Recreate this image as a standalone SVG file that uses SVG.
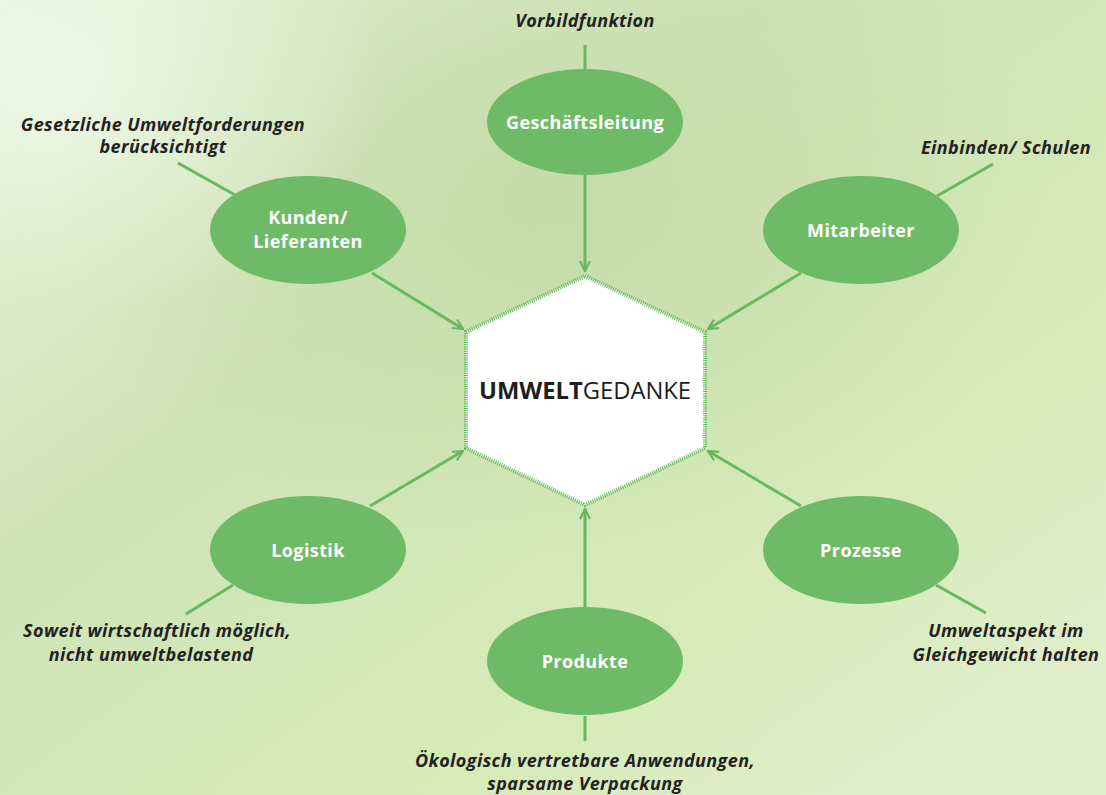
<svg xmlns="http://www.w3.org/2000/svg" width="1106" height="795" viewBox="0 0 1106 795">
<defs>
<linearGradient id="bg" x1="0" y1="0" x2="1" y2="1">
<stop offset="0" stop-color="#e6f3da"/>
<stop offset="0.35" stop-color="#cfe4b6"/>
<stop offset="0.7" stop-color="#d6ebb8"/>
<stop offset="1" stop-color="#e4efd2"/>
</linearGradient>
<radialGradient id="glow" cx="0.5" cy="0.25" r="0.45">
<stop offset="0" stop-color="#c3dba8" stop-opacity="0.9"/>
<stop offset="1" stop-color="#c3dba8" stop-opacity="0"/>
</radialGradient>
<radialGradient id="glow2" cx="0.05" cy="0.1" r="0.3">
<stop offset="0" stop-color="#eef7e6" stop-opacity="0.9"/>
<stop offset="1" stop-color="#eef7e6" stop-opacity="0"/>
</radialGradient>
<marker id="arr" viewBox="0 0 12 12" refX="11" refY="6" markerWidth="12" markerHeight="12" markerUnits="userSpaceOnUse" orient="auto">
<path d="M1,1 L11,6 L1,11" fill="none" stroke="#68b860" stroke-width="2.2"/>
</marker>
<style>
.node{fill:#6fba66}
.lbl{font-family:"Open Sans","Liberation Sans",sans-serif;font-weight:bold;font-size:18px;letter-spacing:0.4px;fill:#ffffff;text-anchor:middle}
.ann{font-family:"Open Sans","Liberation Sans",sans-serif;font-weight:bold;font-style:italic;font-size:18px;letter-spacing:0.4px;fill:#222222;text-anchor:middle}
.con{stroke:#68b860;stroke-width:3;fill:none}
</style>
</defs>
<rect width="1106" height="795" fill="url(#bg)"/>
<rect width="1106" height="795" fill="url(#glow)"/>
<rect width="1106" height="795" fill="url(#glow2)"/>

<g id="connectors">
<line class="con" x1="585" y1="45" x2="585" y2="70"/>
<line class="con" x1="585" y1="175" x2="585" y2="271" marker-end="url(#arr)"/>
<line class="con" x1="178" y1="163" x2="235" y2="195"/>
<line class="con" x1="372" y1="273" x2="463" y2="329" marker-end="url(#arr)"/>
<line class="con" x1="993" y1="164" x2="937" y2="196"/>
<line class="con" x1="801" y1="273" x2="708" y2="329" marker-end="url(#arr)"/>
<line class="con" x1="233" y1="585" x2="186" y2="614"/>
<line class="con" x1="370" y1="506" x2="463" y2="451" marker-end="url(#arr)"/>
<line class="con" x1="936" y1="585" x2="986" y2="613"/>
<line class="con" x1="801" y1="506" x2="708" y2="451" marker-end="url(#arr)"/>
<line class="con" x1="585" y1="716" x2="585" y2="741"/>
<line class="con" x1="585" y1="607" x2="585" y2="509" marker-end="url(#arr)"/>
</g>

<g id="center">
<polygon points="585,276 705,332 705,448 585,505 466,448 466,332" fill="#ffffff" stroke="#5cb85c" stroke-width="4" stroke-dasharray="1 1.2"/>
<text x="585" y="399" text-anchor="middle" font-family="Open Sans, Liberation Sans, sans-serif" font-size="23" fill="#1e1e1e" textLength="212" lengthAdjust="spacingAndGlyphs"><tspan font-weight="bold">UMWELT</tspan>GEDANKE</text>
</g>

<g id="geschaeftsleitung">
<ellipse class="node" cx="585" cy="122" rx="98" ry="53"/>
<text class="lbl" x="585" y="129">Geschäftsleitung</text>
<text class="ann" x="585" y="27">Vorbildfunktion</text>
</g>

<g id="kunden">
<ellipse class="node" cx="308" cy="230" rx="98" ry="54"/>
<text class="lbl" x="308" y="224">Kunden/</text>
<text class="lbl" x="308" y="248">Lieferanten</text>
<text class="ann" x="163" y="131">Gesetzliche Umweltforderungen</text>
<text class="ann" x="163" y="153">berücksichtigt</text>
</g>

<g id="mitarbeiter">
<ellipse class="node" cx="861" cy="230" rx="98" ry="54"/>
<text class="lbl" x="861" y="237">Mitarbeiter</text>
<text class="ann" x="1006" y="154">Einbinden/ Schulen</text>
</g>

<g id="logistik">
<ellipse class="node" cx="308" cy="550" rx="98" ry="54"/>
<text class="lbl" x="308" y="557">Logistik</text>
<text class="ann" x="157" y="637">Soweit wirtschaftlich möglich,</text>
<text class="ann" x="151" y="661">nicht umweltbelastend</text>
</g>

<g id="prozesse">
<ellipse class="node" cx="861" cy="550" rx="98" ry="54"/>
<text class="lbl" x="861" y="557">Prozesse</text>
<text class="ann" x="1006" y="637">Umweltaspekt im</text>
<text class="ann" x="1006" y="661">Gleichgewicht halten</text>
</g>

<g id="produkte">
<ellipse class="node" cx="585" cy="661" rx="98" ry="54"/>
<text class="lbl" x="585" y="668">Produkte</text>
<text class="ann" x="585" y="767">Ökologisch vertretbare Anwendungen,</text>
<text class="ann" x="585" y="790">sparsame Verpackung</text>
</g>
</svg>
